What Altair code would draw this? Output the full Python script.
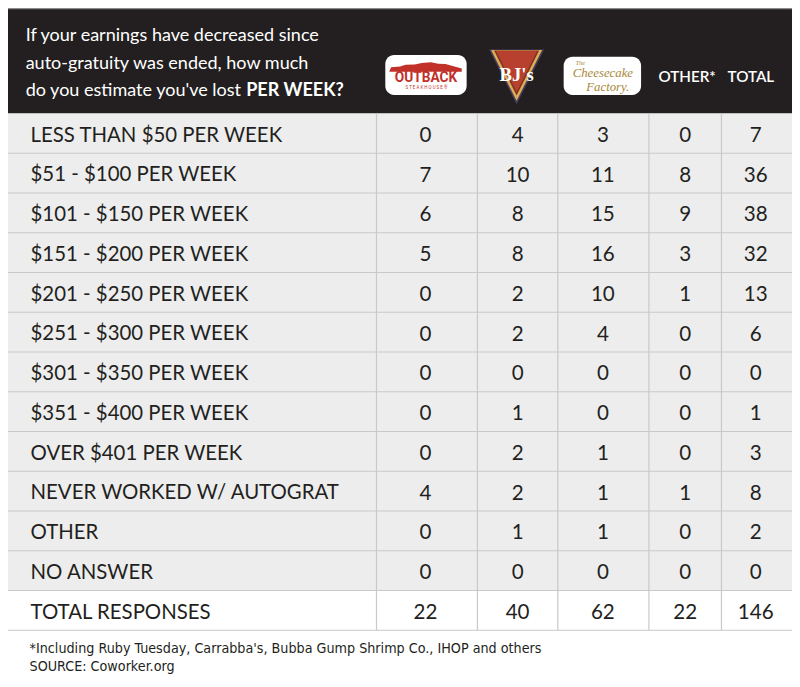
import altair as alt
import pandas as pd

# ---------------- data ----------------
row_labels = [
    "LESS THAN $50 PER WEEK", "$51 - $100 PER WEEK", "$101 - $150 PER WEEK",
    "$151 - $200 PER WEEK", "$201 - $250 PER WEEK", "$251 - $300 PER WEEK",
    "$301 - $350 PER WEEK", "$351 - $400 PER WEEK", "OVER $401 PER WEEK",
    "NEVER WORKED W/ AUTOGRAT", "OTHER", "NO ANSWER", "TOTAL RESPONSES",
]
outback = [0, 7, 6, 5, 0, 0, 0, 0, 0, 4, 0, 0, 22]
bjs = [4, 10, 8, 8, 2, 2, 0, 1, 2, 2, 1, 0, 40]
cheesecake = [3, 11, 15, 16, 10, 4, 0, 0, 1, 1, 1, 0, 62]
other = [0, 8, 9, 3, 1, 0, 0, 0, 0, 1, 0, 0, 22]
total = [7, 36, 38, 32, 13, 6, 0, 1, 3, 8, 2, 0, 146]
columns = ["Outback", "BJ's", "Cheesecake Factory", "OTHER*", "TOTAL"]
question_lines = [
    "If your earnings have decreased since",
    "auto-gratuity was ended, how much",
    "do you estimate you've lost",
]
question_bold = "PER WEEK?"
footnotes = [
    "*Including Ruby Tuesday, Carrabba's, Bubba Gump Shrimp Co., IHOP and others",
    "SOURCE: Coworker.org",
]

# ---------------- layout (pixel design space 800 x 687) ----------------
W, H = 784, 671
S = W / 800.0
HEADER_BOTTOM = 108.0
ROW_H = 40.7
col_edges = [376, 479, 561, 654, 728, 800]
col_centers = [426, 520, 607, 691, 763]
DARK = "#231f20"
GRID = "#c9c9c9"
FONT = "Lato"

xs = alt.Scale(domain=[0, 800], nice=False, zero=False)
ys = alt.Scale(domain=[0, 687], nice=False, zero=False, reverse=True)
X = lambda f: alt.X(f, type="quantitative", scale=xs, axis=None)
Y = lambda f: alt.Y(f, type="quantitative", scale=ys, axis=None)

n = len(row_labels)
row_top = [HEADER_BOTTOM + ROW_H * i for i in range(n)]
row_mid = [t + ROW_H / 2 for t in row_top]

# backgrounds
bg = pd.DataFrame([
    {"x": 0, "x2": 800, "y": 0, "y2": HEADER_BOTTOM, "c": DARK},
    {"x": 0, "x2": 800, "y": HEADER_BOTTOM, "y2": row_top[-1], "c": "#ededed"},
])
bg_layer = alt.Chart(bg).mark_rect().encode(
    x=X("x"), x2="x2", y=Y("y"), y2="y2", color=alt.Color("c:N", scale=None)
)

# grid lines
hl = pd.DataFrame({"x": 0, "x2": 800, "y": row_top[1:] + [row_top[-1] + ROW_H]})
h_layer = alt.Chart(hl).mark_rule(color=GRID, strokeWidth=1.2).encode(
    x=X("x"), x2="x2", y=Y("y")
)
vl = pd.DataFrame({"x": col_edges[:-1], "y": HEADER_BOTTOM, "y2": row_top[-1] + ROW_H})
v_layer = alt.Chart(vl).mark_rule(color=GRID, strokeWidth=1.2).encode(
    x=X("x"), y=Y("y"), y2="y2"
)
top_line = alt.Chart(pd.DataFrame({"x": [0], "x2": [800], "y": [0.6]})).mark_rule(
    color="#8c8c8c", strokeWidth=1.2
).encode(x=X("x"), x2="x2", y=Y("y"))

# row labels
lab = pd.DataFrame({"label": row_labels, "x": 23, "y": [m + 8.4 for m in row_mid]})
lab_layer = alt.Chart(lab).mark_text(
    align="left", baseline="alphabetic", font=FONT, fontSize=20.8 * S, color=DARK
).encode(x=X("x"), y=Y("y"), text="label:N")

# cell values
recs = []
for ci, vals in enumerate([outback, bjs, cheesecake, other, total]):
    for ri, v in enumerate(vals):
        recs.append({"col": columns[ci], "x": col_centers[ci], "y": row_mid[ri] + 8.6, "v": v})
cells = pd.DataFrame(recs)
cell_layer = alt.Chart(cells).mark_text(
    align="center", baseline="alphabetic", font=FONT, fontSize=21 * S, color=DARK
).encode(x=X("x"), y=Y("y"), text="v:Q")

# header question
q = pd.DataFrame({"t": question_lines, "x": 18, "y": [34, 62.5, 90.5]})
q_layer = alt.Chart(q).mark_text(
    align="left", baseline="alphabetic", font=FONT, fontSize=18.4 * S, color="white"
).encode(x=X("x"), y=Y("y"), text="t:N")
qb_layer = alt.Chart(pd.DataFrame({"t": [question_bold], "x": [243], "y": [90.5]})).mark_text(
    align="left", baseline="alphabetic", font=FONT, fontSize=18.4 * S, color="white",
    fontWeight="bold"
).encode(x=X("x"), y=Y("y"), text="t:N")

# header text columns
hc = pd.DataFrame({"t": columns[3:], "x": [693, 758], "y": [76, 76]})
hc_layer = alt.Chart(hc).mark_text(
    align="center", baseline="alphabetic", font=FONT, fontSize=15.5 * S, color="white",
    fontWeight=600
).encode(x=X("x"), y=Y("y"), text="t:N")

# ---- logos (approximations) ----
boxes = pd.DataFrame([
    {"x": 385, "x2": 468, "y": 48, "y2": 89},
    {"x": 567, "x2": 646, "y": 50, "y2": 89},
])
box_layer = alt.Chart(boxes).mark_rect(color="white", cornerRadius=9 * S).encode(
    x=X("x"), x2="x2", y=Y("y"), y2="y2"
)
mountain = alt.Chart(pd.DataFrame({"x": [426], "y": [60]})).mark_point(
    shape="M-1,0.14 L-0.95,0.02 L-0.7,0.0 L-0.55,-0.05 L-0.3,-0.06 L-0.1,-0.1 L0.15,-0.12 "
          "L0.35,-0.08 L0.55,-0.07 L0.75,-0.02 L1,0.05 L1,0.14 Z",
    filled=True, fill="#c2302a", strokeWidth=0, size=(74 * S) ** 2, opacity=1
).encode(x=X("x"), y=Y("y"))
ob_text = alt.Chart(pd.DataFrame({"t": ["OUTBACK"], "x": [426.5], "y": [76]})).mark_text(
    align="center", baseline="alphabetic", font="Roboto", fontWeight="bold",
    fontSize=14 * S, color="#c2302a"
).encode(x=X("x"), y=Y("y"), text="t:N")
ob_sub = alt.Chart(pd.DataFrame({"t": ["S T E A K H O U S E ®"], "x": [427], "y": [83]})).mark_text(
    align="center", baseline="alphabetic", font="Roboto", fontSize=4.5 * S,
    color="#c2302a"
).encode(x=X("x"), y=Y("y"), text="t:N")

tri_path = "M-1,-1 L1,-1 L0,1 Z"
tri = pd.DataFrame([
    {"x": 519, "y": 70.5, "s": 56, "c": "#4a4060"},
    {"x": 519, "y": 69, "s": 52, "c": "#e0ac55"},
    {"x": 519, "y": 66.5, "s": 46, "c": "#7b3522"},
    {"x": 519, "y": 65, "s": 42, "c": "#b8402f"},
])
tri["size"] = (tri["s"] * S) ** 2
tri_layer = alt.Chart(tri).mark_point(shape=tri_path, filled=True, strokeWidth=0, opacity=1).encode(
    x=X("x"), y=Y("y"), size=alt.Size("size:Q", scale=None, legend=None),
    fill=alt.Fill("c:N", scale=None), order=alt.Order("s:Q", sort="descending")
)
bj_text = alt.Chart(pd.DataFrame({"t": ["BJ's"], "x": [519], "y": [75]})).mark_text(
    align="center", baseline="alphabetic", font="Liberation Serif", fontWeight="bold",
    fontSize=19 * S, color="white"
).encode(x=X("x"), y=Y("y"), text="t:N")

ck = pd.DataFrame([
    {"t": "The", "x": 584, "y": 58, "fs": 6.5},
    {"t": "Cheesecake", "x": 607, "y": 70.5, "fs": 12.8},
    {"t": "Factory.", "x": 612, "y": 84.5, "fs": 12.8},
])
ck_layer = alt.Chart(ck).mark_text(
    align="center", baseline="alphabetic", font="Liberation Serif", fontStyle="italic",
    color="#a9883a"
).encode(x=X("x"), y=Y("y"), text="t:N", size=alt.Size("fs:Q", scale=None, legend=None))

# footer
ft = pd.DataFrame({"t": footnotes, "x": 22, "y": [660, 678.5]})
ft_layer = alt.Chart(ft).mark_text(
    align="left", baseline="alphabetic",
    font="Liberation Sans Narrow, DejaVu Sans Condensed, Roboto", fontSize=14.5 * S,
    color=DARK
).encode(x=X("x"), y=Y("y"), text="t:N")

chart = alt.layer(
    bg_layer, top_line, h_layer, v_layer, lab_layer, cell_layer, q_layer, qb_layer,
    hc_layer, box_layer, mountain, ob_text, ob_sub, tri_layer, bj_text, ck_layer, ft_layer
).properties(
    width=W, height=H, padding=0, autosize="none", background="white"
).configure_view(stroke=None)

chart.save("out.html", embed_options={"renderer": "svg", "actions": False})
